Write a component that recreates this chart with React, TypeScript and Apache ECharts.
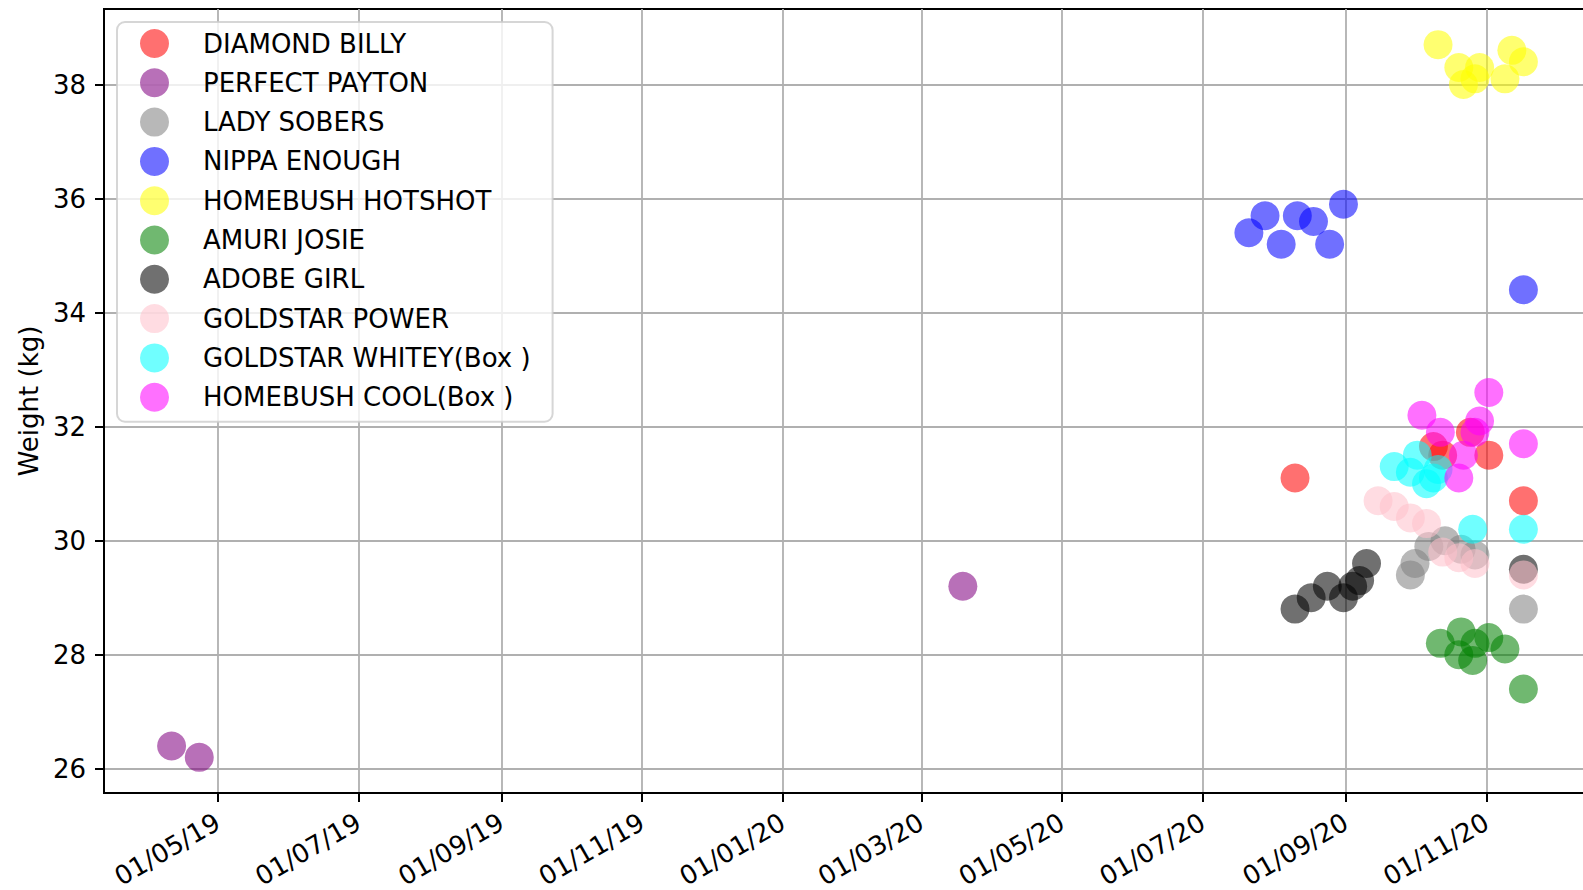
import React, { useEffect, useRef } from 'react';
import * as echarts from 'echarts';

const FONT = "'DejaVu Sans', 'Liberation Sans', sans-serif";

const dogNames = [
  'DIAMOND BILLY',
  'PERFECT PAYTON',
  'LADY SOBERS',
  'NIPPA ENOUGH',
  'HOMEBUSH HOTSHOT',
  'AMURI JOSIE',
  'ADOBE GIRL',
  'GOLDSTAR POWER',
  'GOLDSTAR WHITEY(Box )',
  'HOMEBUSH COOL(Box )',
];

const dogColors = [
  'rgba(255,0,0,0.7)',
  'rgba(128,0,128,0.7)',
  'rgba(128,128,128,0.7)',
  'rgba(0,0,255,0.7)',
  'rgba(255,255,0,0.7)',
  'rgba(0,128,0,0.7)',
  'rgba(0,0,0,0.7)',
  'rgba(255,192,203,0.7)',
  'rgba(0,255,255,0.7)',
  'rgba(255,0,255,0.7)',
];

const diamondBillyDates = ['2020-08-10', '2020-10-09', '2020-10-13', '2020-10-25', '2020-11-02', '2020-11-17'];
const diamondBillyWeights = [31.1, 31.65, 31.5, 31.9, 31.5, 30.7];

const perfectPaytonDates = ['2019-04-11', '2019-04-23', '2020-03-19'];
const perfectPaytonWeights = [26.4, 26.2, 29.2];

const ladySobersDates = ['2020-09-29', '2020-10-01', '2020-10-07', '2020-10-14', '2020-10-21', '2020-10-27', '2020-11-17'];
const ladySobersWeights = [29.4, 29.6, 29.9, 30.0, 29.85, 29.75, 28.8];

const nippaEnoughDates = ['2020-07-21', '2020-07-28', '2020-08-04', '2020-08-11', '2020-08-18', '2020-08-25', '2020-08-31', '2020-11-17'];
const nippaEnoughWeights = [35.4, 35.7, 35.2, 35.7, 35.6, 35.2, 35.9, 34.4];

const homebushHotshotDates = ['2020-10-11', '2020-10-20', '2020-10-22', '2020-10-27', '2020-10-29', '2020-11-09', '2020-11-12', '2020-11-17'];
const homebushHotshotWeights = [38.7, 38.3, 38.0, 38.1, 38.3, 38.1, 38.6, 38.4];

const amuriJosieDates = ['2020-10-12', '2020-10-20', '2020-10-21', '2020-10-26', '2020-10-27', '2020-11-02', '2020-11-09', '2020-11-17'];
const amuriJosieWeights = [28.2, 28.0, 28.4, 27.9, 28.2, 28.3, 28.1, 27.4];

const adobeGirlDates = ['2020-08-10', '2020-08-17', '2020-08-24', '2020-08-31', '2020-09-04', '2020-09-07', '2020-09-10', '2020-11-17'];
const adobeGirlWeights = [28.8, 29.0, 29.2, 29.0, 29.2, 29.3, 29.6, 29.5];

const goldstarPowerDates = ['2020-09-15', '2020-09-22', '2020-09-29', '2020-10-06', '2020-10-13', '2020-10-20', '2020-10-27', '2020-11-17'];
const goldstarPowerWeights = [30.7, 30.6, 30.4, 30.3, 29.8, 29.7, 29.6, 29.4];

const goldstarWhiteyDates = ['2020-09-22', '2020-09-29', '2020-10-02', '2020-10-06', '2020-10-09', '2020-10-11', '2020-10-26', '2020-11-17'];
const goldstarWhiteyWeights = [31.3, 31.2, 31.5, 31.0, 31.1, 31.25, 30.2, 30.2];

const homebushCoolDates = ['2020-10-04', '2020-10-12', '2020-10-20', '2020-10-22', '2020-10-27', '2020-10-29', '2020-11-02', '2020-11-17'];
const homebushCoolWeights = [32.2, 31.9, 31.1, 31.5, 31.9, 32.1, 32.6, 31.7];

const dogDates = [
  diamondBillyDates, perfectPaytonDates, ladySobersDates, nippaEnoughDates, homebushHotshotDates,
  amuriJosieDates, adobeGirlDates, goldstarPowerDates, goldstarWhiteyDates, homebushCoolDates,
];
const dogWeights = [
  diamondBillyWeights, perfectPaytonWeights, ladySobersWeights, nippaEnoughWeights, homebushHotshotWeights,
  amuriJosieWeights, adobeGirlWeights, goldstarPowerWeights, goldstarWhiteyWeights, homebushCoolWeights,
];

const xTickDates = ['2019-05-01', '2019-07-01', '2019-09-01', '2019-11-01', '2020-01-01', '2020-03-01', '2020-05-01', '2020-07-01', '2020-09-01', '2020-11-01'];
const yTickValues = [26, 28, 30, 32, 34, 36, 38];

const ts = (s: string) => {
  const [y, m, d] = s.split('-').map(Number);
  return Date.UTC(y, m - 1, d);
};

const pad2 = (n: number) => (n < 10 ? '0' + n : '' + n);
const fmtDate = (v: number) => {
  const d = new Date(v);
  return pad2(d.getUTCDate()) + '/' + pad2(d.getUTCMonth() + 1) + '/' + pad2(d.getUTCFullYear() % 100);
};

export default function App() {
  const ref = useRef<HTMLDivElement>(null);

  useEffect(() => {
    if (!ref.current) return;
    const chart = echarts.init(ref.current, undefined, { renderer: 'svg' });

    const allX = dogDates.flat().map(ts);
    const allY = dogWeights.flat();
    const x0 = Math.min(...allX), x1 = Math.max(...allX);
    const y0 = Math.min(...allY), y1 = Math.max(...allY);
    const xMin = x0 - (x1 - x0) * 0.05;
    const xMax = x1 + (x1 - x0) * 0.05;
    const yMin = y0 - (y1 - y0) * 0.05;
    const yMax = y1 + (y1 - y0) * 0.05;

    const xTicks = xTickDates.map(ts);

    const series = dogNames.map((name, i) => ({
      type: 'scatter',
      name,
      data: dogDates[i].map((d, j) => [ts(d), dogWeights[i][j]]),
      symbol: 'circle',
      symbolSize: 29,
      itemStyle: { color: dogColors[i] },
      emphasis: { disabled: true },
    }));

    chart.setOption({
      animation: false,
      backgroundColor: '#ffffff',
      grid: {
        left: 104,
        top: 9,
        bottom: 97,
        right: -8,
        outerBoundsMode: 'none',
        containLabel: false,
        show: true,
        borderColor: '#000',
        borderWidth: 2,
        backgroundColor: 'transparent',
      },
      legend: {
        orient: 'vertical',
        left: 117,
        top: 22,
        padding: [7, 22, 10, 23],
        itemWidth: 29,
        itemHeight: 29,
        itemGap: 10.3,
        icon: 'circle',
        backgroundColor: 'rgba(255,255,255,0.8)',
        borderColor: 'rgba(204,204,204,0.8)',
        borderWidth: 2,
        borderRadius: 8,
        selectedMode: false,
        textStyle: { fontSize: 26, fontFamily: FONT, color: '#000', padding: [0, 0, 0, 29], lineHeight: 29 },
        data: dogNames,
      },
      xAxis: {
        type: 'value',
        scale: true,
        min: xMin,
        max: xMax,
        axisLine: { show: true, lineStyle: { color: '#000', width: 2 } },
        axisTick: { show: true, length: 9, lineStyle: { color: '#000', width: 2 }, customValues: xTicks },
        axisLabel: {
          customValues: xTicks,
          formatter: (v: number) => fmtDate(v),
          rotate: 30,
          margin: 27,
          fontSize: 26,
          lineHeight: 26,
          fontFamily: FONT,
          color: '#000',
          hideOverlap: false,
        },
        splitLine: { show: true, lineStyle: { color: '#b0b0b0', width: 1.8 } },
      },
      yAxis: {
        type: 'value',
        scale: true,
        min: yMin,
        max: yMax,
        name: 'Weight (kg)',
        nameLocation: 'middle',
        nameGap: 62,
        nameTextStyle: { fontSize: 26, fontFamily: FONT, color: '#000' },
        axisLine: { show: true, lineStyle: { color: '#000', width: 2 } },
        axisTick: { show: true, length: 9, lineStyle: { color: '#000', width: 2 }, customValues: yTickValues },
        axisLabel: {
          customValues: yTickValues,
          formatter: (v: number) => String(Math.round(v)),
          margin: 18,
          fontSize: 26,
          fontFamily: FONT,
          color: '#000',
        },
        splitLine: { show: true, lineStyle: { color: '#b0b0b0', width: 1.8 } },
      },
      series,
    });

    return () => chart.dispose();
  }, []);

  return (
    <div
      ref={ref}
      style={{ position: 'fixed', left: 0, top: 0, width: 1583, height: 890, background: '#fff' }}
    />
  );
}
